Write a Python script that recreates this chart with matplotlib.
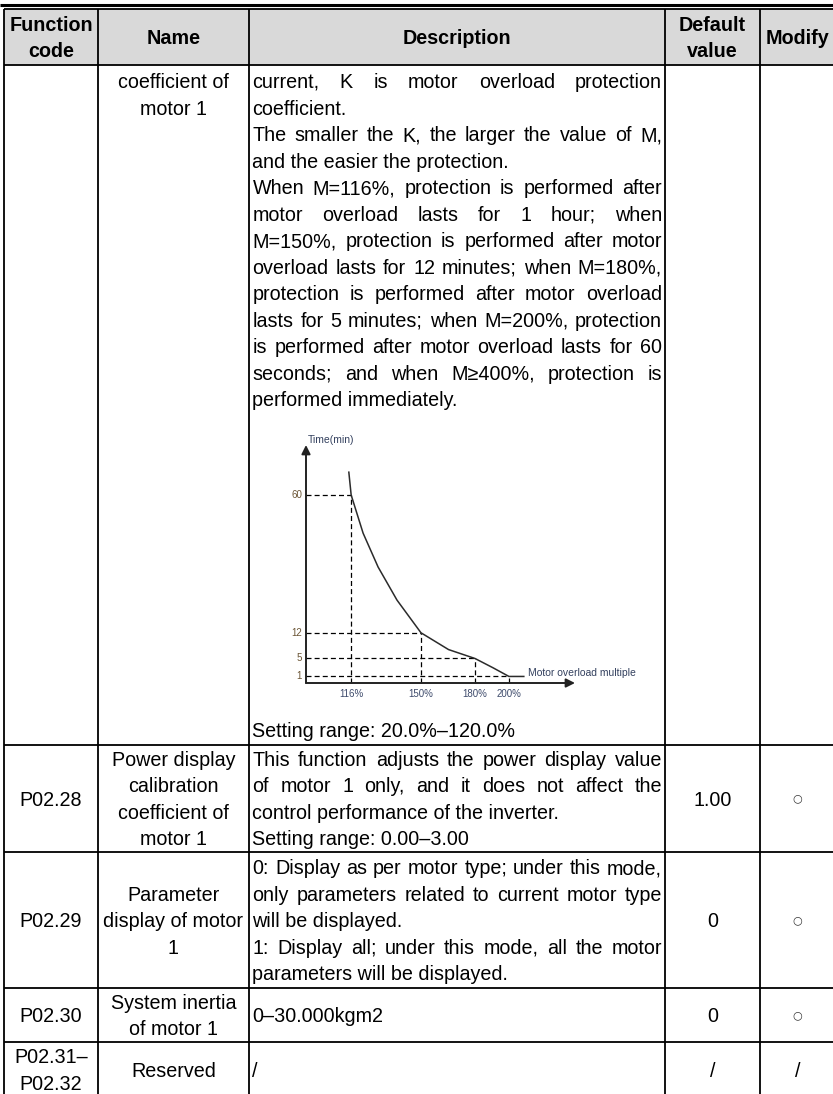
import numpy as np
import matplotlib.pyplot as plt
from matplotlib.font_manager import FontProperties

# table content
header_labels = ["Function\ncode", "Name", "Description", "Default\nvalue", "Modify"]
codes = ["", "P02.28", "P02.29", "P02.30", "P02.31–\nP02.32"]
names = ["coefficient of\nmotor 1",
         "Power display\ncalibration\ncoefficient of\nmotor 1",
         "Parameter\ndisplay of motor\n1",
         "System inertia\nof motor 1",
         "Reserved"]
defaults = ["", "1.00", "0", "0", "/"]
modify = ["", "○", "○", "○", "/"]

# description paragraphs, one list of lines per paragraph
desc_first = [
    ["current, K is motor overload protection", "coefficient."],
    ["The smaller the K, the larger the value of M,", "and the easier the protection."],
    ["When M=116%, protection is performed after",
     "motor overload lasts for 1 hour; when",
     "M=150%, protection is performed after motor",
     "overload lasts for 12 minutes; when M=180%,",
     "protection is performed after motor overload",
     "lasts for 5 minutes; when M=200%, protection",
     "is performed after motor overload lasts for 60",
     "seconds; and when M≥400%, protection is",
     "performed immediately."],
]
desc_first_range = "Setting range: 20.0%–120.0%"
descriptions = [
    None,
    [["This function adjusts the power display value",
      "of motor 1 only, and it does not affect the",
      "control performance of the inverter."],
     ["Setting range: 0.00–3.00"]],
    [["0: Display as per motor type; under this mode,",
      "only parameters related to current motor type",
      "will be displayed."],
     ["1: Display all; under this mode, all the motor",
      "parameters will be displayed."]],
    [["0–30.000kgm2"]],
    [["/"]],
]

# overload curve
overload_ticks = [116, 150, 180, 200]
overload_labels = ["116%", "150%", "180%", "200%"]
time_ticks = [60, 12, 5, 1]
curve_multiple = [115, 116, 121.3, 128.3, 137.6, 150, 165, 180, 190.5, 200, 209]
curve_time = [69, 60, 45.5, 33.3, 22.1, 12, 7.3, 5, 2.8, 1, 1.0]

FONT = ["Liberation Sans", "DejaVu Sans"]
SIZE = 14.2
LINE_H = 26.5
BASE = 0.716 * SIZE * 100 / 72 / 2  # half cap height in px

col_edges = [4, 98, 249, 665, 760, 835]
row_edges = [9, 65, 745, 852, 988, 1042, 1097]

fig = plt.figure(figsize=(8.33, 10.94), dpi=100)
ax = fig.add_axes([0, 0, 1, 1])
ax.set_xlim(0, 833)
ax.set_ylim(1094, 0)
ax.axis("off")
renderer = fig.canvas.get_renderer()
body_font = FontProperties(family=FONT, size=SIZE)


def text_width(s):
    w, h, d = renderer.get_text_width_height_descent(s, body_font, ismath=False)
    return w


def put(x, yc, s, ha="left", weight="normal"):
    ax.text(x, yc + BASE, s, ha=ha, va="baseline", fontsize=SIZE,
            family=FONT, weight=weight, color="black")


def put_justified(x0, x1, yc, s):
    words = s.split(" ")
    widths = [text_width(w) for w in words]
    gap = (x1 - x0 - sum(widths)) / (len(words) - 1)
    gap = max(gap, 3)
    x = x0
    for w, wd in zip(words, widths):
        put(x, yc, w)
        x += wd + gap


def draw_paragraphs(paras, x0, x1, y):
    for para in paras:
        for i, line in enumerate(para):
            if i < len(para) - 1:
                put_justified(x0, x1, y, line)
            else:
                put(x0, y, line)
            y += LINE_H
    return y


def centered_block(lines, xc, top, bottom, weight="normal"):
    n = len(lines)
    y = (top + bottom) / 2 - (n - 1) / 2 * LINE_H
    for line in lines:
        put(xc, y, line, ha="center", weight=weight)
        y += LINE_H


# top rule and header shading
ax.hlines(4.5, 0, 833, color="black", lw=2.2)
ax.fill_between([col_edges[0], col_edges[-1]], row_edges[0], row_edges[1],
                color="#d9d9d9", lw=0)

col_mid = [(a + b) / 2 for a, b in zip(col_edges[:-1], col_edges[1:])]
for i, lab in enumerate(header_labels):
    centered_block(lab.split("\n"), col_mid[i], row_edges[0], row_edges[1], weight="bold")

dx0 = col_edges[2] + 3.5
dx1 = col_edges[3] - 3

# first (continued) row: top aligned
y0 = row_edges[1] + 16
for j, line in enumerate(names[0].split("\n")):
    put(col_mid[1], y0 + j * LINE_H, line, ha="center")
draw_paragraphs(desc_first, dx0, dx1, y0)
put(dx0, row_edges[2] - 15, desc_first_range)

# remaining rows: vertically centred
for r in range(1, len(codes)):
    top, bot = row_edges[r + 1], row_edges[r + 2]
    centered_block(codes[r].split("\n"), col_mid[0], top, bot)
    centered_block(names[r].split("\n"), col_mid[1], top, bot)
    nlines = sum(len(p) for p in descriptions[r])
    ystart = (top + bot) / 2 - (nlines - 1) / 2 * LINE_H
    draw_paragraphs(descriptions[r], dx0, dx1, ystart)
    centered_block([defaults[r]], col_mid[3], top, bot)
    if modify[r] == "○":
        ax.text(col_mid[4], (top + bot) / 2, "○", ha="center", va="center",
                fontsize=8, family=["DejaVu Sans"], color="#333333")
    else:
        centered_block([modify[r]], col_mid[4], top, bot)

# grid lines
ax.hlines(row_edges, col_edges[0], col_edges[-1], color="black", lw=1.3)
ax.vlines(col_edges, row_edges[0], row_edges[-1], color="black", lw=1.3)

# embedded overload chart
W, H = 833.0, 1094.0
ox, oy, cw, ch = 306, 683, 269, 238
cax = fig.add_axes([ox / W, 1 - oy / H, cw / W, ch / H])
p = 0.82


def fx(x):
    d = np.asarray(x, dtype=float) - 100
    return np.sign(d) * np.abs(d) ** p


def fx_inv(u):
    u = np.asarray(u, dtype=float)
    return 100 + np.sign(u) * np.abs(u) ** (1 / p)


def fy(y):
    y = np.asarray(y, dtype=float)
    return np.sign(y) * np.abs(y) ** p


def fy_inv(u):
    u = np.asarray(u, dtype=float)
    return np.sign(u) * np.abs(u) ** (1 / p)


cax.set_xscale("function", functions=(fx, fx_inv))
cax.set_yscale("function", functions=(fy, fy_inv))
cax.set_xlim(100, 241)
cax.set_ylim(0, 80)
cax.axis("off")

dash = (0, (4, 2.5))
for m, t in zip(overload_ticks, time_ticks):
    cax.plot([100, m], [t, t], color="black", lw=0.9, ls=dash, clip_on=False)
    cax.plot([m, m], [0, t], color="black", lw=0.9, ls=dash, clip_on=False)

cax.plot(curve_multiple, curve_time, color="#2b2b2b", lw=1.1, clip_on=False)

arrow = dict(arrowstyle="-|>", color="#222222", lw=1.4, mutation_scale=13,
             shrinkA=0, shrinkB=0)
cax.annotate("", xy=(241, 0), xytext=(100, 0), arrowprops=arrow)
cax.annotate("", xy=(100, 80), xytext=(100, 0), arrowprops=arrow)

for t in time_ticks:
    cax.annotate(str(t), xy=(100, t), xytext=(-4, 0), textcoords="offset pixels",
                 ha="right", va="center", fontsize=7, family=FONT, color="#6b5535")
for m, lab in zip(overload_ticks, overload_labels):
    cax.annotate(lab, xy=(m, 0), xytext=(0, -11), textcoords="offset pixels",
                 ha="center", va="center", fontsize=7, family=FONT, color="#3d4a6b")
cax.annotate("Time(min)", xy=(100, 80), xytext=(2, 5), textcoords="offset pixels",
             ha="left", va="center", fontsize=7.5, family=FONT, color="#33405e")
cax.annotate("Motor overload multiple", xy=(curve_multiple[-1], 0), xytext=(4, 10),
             textcoords="offset pixels", ha="left", va="center", fontsize=7.5,
             family=FONT, color="#33405e")

fig.savefig("out.png", dpi=100)
